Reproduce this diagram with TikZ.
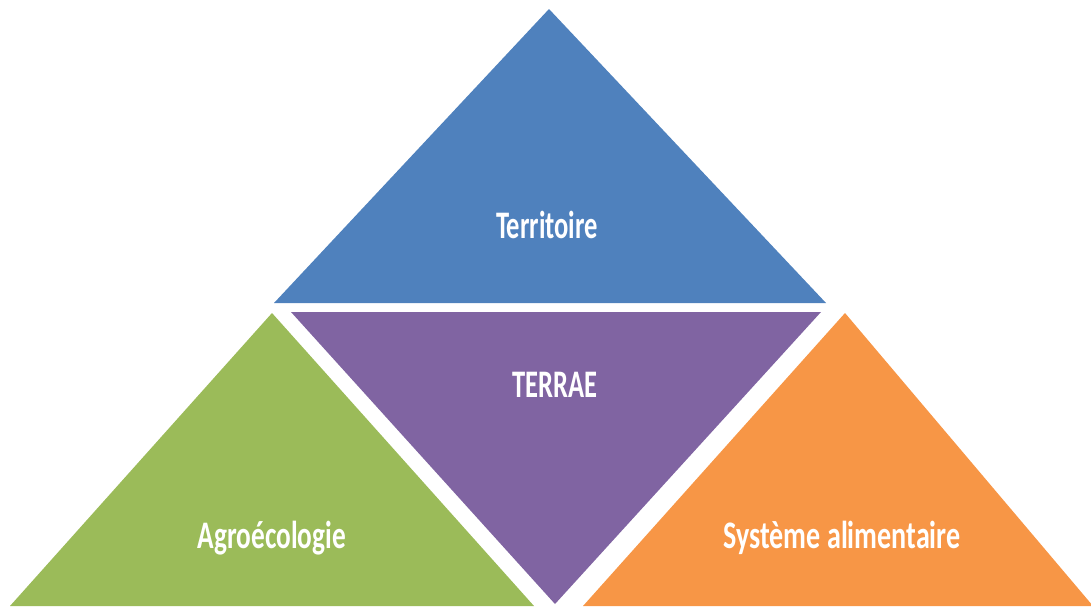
\documentclass[tikz,border=0pt]{standalone}
\usepackage{fontspec}
\setmainfont{Carlito}
\usepackage{graphicx}
\definecolor{tblue}{HTML}{4F81BD}
\definecolor{tpurple}{HTML}{8064A2}
\definecolor{tgreen}{HTML}{9BBB59}
\definecolor{torange}{HTML}{F79646}
\begin{document}
\begin{tikzpicture}[x=1pt,y=-1pt,
  lbl/.style={text=white,font=\fontsize{39}{39}\selectfont\bfseries,anchor=base,inner sep=0pt}]
\useasboundingbox (0,0) rectangle (1091,606);
\clip (0,0) rectangle (1091,606);
\fill[tblue] (549,9) -- (274,303) -- (826,303) -- cycle;
\fill[tpurple] (291,312) -- (821,312) -- (555,604) -- cycle;
\fill[tgreen] (272,313) -- (10,606) -- (534,606) -- cycle;
\fill[torange] (845,313) -- (583,606) -- (1093,606) -- cycle;
\node[lbl] (terr) at (547,238) {\scalebox{0.68}[1]{Territoire}};
\node[lbl] (terrae) at (555,397) {\scalebox{0.68}[1]{TERRAE}};
\node[lbl] (agro) at (272,548) {\scalebox{0.7}[1]{Agroécologie}};
\node[lbl] (sys) at (842,548) {\scalebox{0.72}[1]{Système alimentaire}};
\end{tikzpicture}
\end{document}
